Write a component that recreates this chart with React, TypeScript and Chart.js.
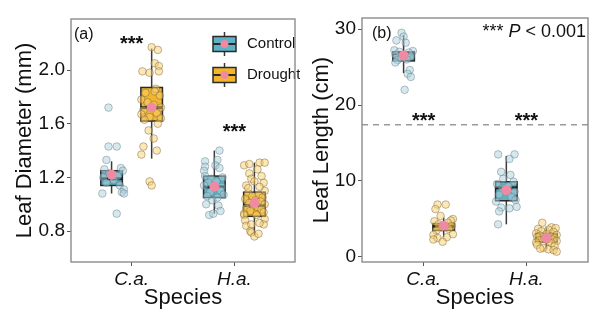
import React, { useEffect, useRef } from "react";
import { Chart, registerables } from "chart.js";
Chart.register(...registerables);

type Pt = [number, number];

const speciesLabels = ["C.a.", "H.a."];
const treatmentLabels = ["Control", "Drought"];
const DODGE = 0.195;
const BOX_HALF = 0.105;

// ---------- Panel (a): Leaf Diameter (mm) ----------
const diameterTicks = [0.8, 1.2, 1.6, 2.0];
// [lower whisker, Q1, median, Q3, upper whisker, mean]
const diameterCaControlBox = [1.08, 1.14, 1.19, 1.25, 1.32, 1.22];
const diameterCaDroughtBox = [1.34, 1.62, 1.72, 1.87, 2.16, 1.72];
const diameterHaControlBox = [0.93, 1.05, 1.13, 1.21, 1.4, 1.13];
const diameterHaDroughtBox = [0.77, 0.91, 0.99, 1.09, 1.31, 1.01];
// [jitter offset, value]
const diameterCaControlPts: Pt[] = [
  [-0.03, 1.72], [-0.03, 1.43], [0.05, 1.43], [-0.05, 1.33], [0.09, 1.27], [-0.07, 1.26],
  [0.11, 1.25], [-0.02, 1.23], [0.06, 1.21], [-0.08, 1.2], [0.02, 1.18], [-0.05, 1.16],
  [0.08, 1.14], [0.12, 1.11], [0.1, 1.09], [-0.09, 1.08], [0.12, 1.08], [0.05, 0.93],
];
const diameterCaDroughtPts: Pt[] = [
  [0.0, 2.17], [0.06, 2.15], [0.03, 2.05], [0.07, 2.03], [-0.09, 1.99], [-0.02, 1.98],
  [0.07, 1.99], [0.04, 1.86], [0.03, 1.84], [-0.06, 1.83], [0.08, 1.81], [-0.1, 1.78],
  [-0.04, 1.76], [0.02, 1.74], [0.09, 1.72], [-0.08, 1.7], [0.05, 1.68], [-0.1, 1.67],
  [-0.02, 1.65], [0.09, 1.64], [-0.07, 1.63], [0.06, 1.6], [-0.03, 1.55], [0.02, 1.49],
  [-0.08, 1.43], [0.05, 1.4], [-0.1, 1.37], [-0.02, 1.17], [0.0, 1.14],
];
const diameterHaControlPts: Pt[] = [
  [0.05, 1.4], [0.03, 1.33], [-0.09, 1.32], [0.01, 1.29], [-0.09, 1.28], [0.05, 1.27],
  [-0.1, 1.25], [-0.09, 1.21], [0.08, 1.2], [-0.03, 1.19], [0.02, 1.17], [-0.06, 1.16],
  [-0.1, 1.14], [0.07, 1.13], [0.0, 1.12], [0.06, 1.1], [-0.04, 1.09], [0.09, 1.07],
  [-0.07, 1.06], [0.03, 1.05], [-0.02, 1.03], [-0.08, 1.0], [0.04, 0.99], [0.06, 0.95],
  [-0.05, 0.92], [-0.01, 0.93],
];
const diameterHaDroughtPts: Pt[] = [
  [-0.1, 1.29], [-0.05, 1.3], [0.05, 1.31], [0.1, 1.31], [-0.05, 1.23], [0.03, 1.26],
  [0.07, 1.21], [-0.03, 1.19], [0.09, 1.16], [-0.08, 1.14], [0.1, 1.1], [-0.06, 1.08],
  [0.04, 1.07], [-0.02, 1.06], [0.08, 1.05], [-0.09, 1.04], [0.01, 1.03], [0.06, 1.02],
  [-0.05, 1.01], [0.1, 1.0], [-0.01, 0.99], [0.03, 0.98], [-0.08, 0.97], [0.07, 0.96],
  [-0.04, 0.95], [0.09, 0.94], [-0.1, 0.93], [0.02, 0.92], [-0.1, 0.92], [-0.09, 0.88],
  [0.1, 0.89], [-0.08, 0.84], [0.09, 0.85], [-0.03, 0.85], [0.05, 0.86], [-0.04, 0.8],
  [-0.03, 0.79], [0.0, 0.76], [0.04, 0.78], [-0.06, 1.12], [0.05, 1.13], [0.0, 1.17],
];
const diameterStars: Pt[] = [[1, 2.15], [2, 1.49]];

// ---------- Panel (b): Leaf Length (cm) ----------
const lengthTicks = [0, 10, 20, 30];
const lengthCaControlBox = [24.2, 25.8, 26.8, 27.0, 29.2, 26.5];
const lengthCaDroughtBox = [2.6, 3.5, 4.0, 4.4, 5.2, 4.1];
const lengthHaControlBox = [4.3, 7.4, 9.1, 9.9, 13.3, 8.8];
const lengthHaDroughtBox = [1.0, 2.0, 2.5, 3.1, 3.9, 2.5];
const lengthCaControlPts: Pt[] = [
  [-0.02, 29.5], [0.0, 29.0], [-0.07, 28.5], [0.02, 28.2], [-0.09, 27.2], [0.09, 27.1],
  [-0.04, 27.0], [0.05, 26.9], [-0.08, 26.6], [0.07, 26.4], [-0.02, 26.2], [0.03, 26.0],
  [-0.06, 25.9], [-0.08, 25.6], [0.06, 24.6], [0.04, 24.1], [0.07, 23.7], [0.01, 22.0],
];
const lengthCaDroughtPts: Pt[] = [
  [-0.06, 6.9], [0.02, 6.9], [-0.08, 6.3], [-0.03, 5.4], [0.09, 5.0], [0.07, 4.8],
  [-0.09, 4.7], [0.04, 4.5], [-0.05, 4.3], [0.08, 4.1], [-0.02, 3.9], [0.05, 3.7],
  [-0.07, 3.5], [0.09, 3.0], [-0.1, 2.9], [0.03, 2.6], [-0.06, 2.5], [-0.1, 2.3], [-0.01, 2.0],
];
const lengthHaControlPts: Pt[] = [
  [-0.08, 13.5], [0.08, 13.5], [0.03, 12.9], [-0.05, 11.2], [0.04, 10.8], [-0.03, 10.3],
  [0.07, 9.9], [-0.09, 9.6], [0.02, 9.3], [-0.04, 9.0], [0.08, 8.6], [-0.07, 8.2],
  [0.05, 7.9], [-0.1, 7.3], [0.09, 7.5], [-0.05, 6.5], [0.03, 6.4], [0.1, 6.6],
  [-0.07, 6.0], [-0.08, 4.3],
];
const lengthHaDroughtPts: Pt[] = [
  [-0.04, 4.5], [0.05, 3.9], [0.09, 3.8], [-0.08, 3.7], [0.02, 3.6], [-0.05, 3.4],
  [0.07, 3.3], [-0.1, 3.1], [0.0, 3.0], [0.1, 2.9], [-0.06, 2.8], [0.04, 2.7],
  [-0.09, 2.6], [0.08, 2.5], [-0.02, 2.4], [0.06, 2.3], [-0.07, 2.2], [0.1, 2.1],
  [0.02, 2.0], [-0.1, 1.9], [0.05, 1.8], [-0.09, 1.6], [0.08, 1.4], [-0.03, 1.2],
  [0.02, 1.0], [0.07, 0.9], [0.1, 0.7], [-0.06, 1.1],
];
const lengthStars: Pt[] = [[1, 17.1], [2, 17.1]];
const lengthThreshold = 17.4;

// ---------- styles ----------
const boxFill = ["#5FB2C6", "#F2B52B"];
const ptFill = ["rgba(170,210,222,0.5)", "rgba(250,208,110,0.5)"];
const ptBorder = ["rgba(85,105,115,0.4)", "rgba(115,95,55,0.45)"];
const meanColor = "#EE8BA2";
const FONT = "'Liberation Sans', Arial, sans-serif";

interface PanelSpec {
  yTicks: number[];
  yMin: number;
  yMax: number;
  xMin: number;
  xMax: number;
  decimals: number;
  yTitle: string;
  tag: string;
  tagX: number;
  boxes: number[][];
  pts: Pt[][];
  stars: Pt[];
  threshold?: number;
  legend: boolean;
  pvalue: boolean;
  padRight: number;
  padTop: number;
  yAxisWidth: number;
  yTitlePad: number;
}

function groupPos(i: number) {
  const sp = Math.floor(i / 2) + 1;
  const g = i % 2;
  return sp + (g === 0 ? -DODGE : DODGE);
}

function buildConfig(p: PanelSpec): any {
  const pointSets = p.pts.map((arr, i) => ({
    data: arr.map(([dx, y]) => ({ x: groupPos(i) + dx, y })),
    backgroundColor: ptFill[i % 2],
    borderColor: ptBorder[i % 2],
    borderWidth: 1,
    pointRadius: 3.8,
    order: 1,
  }));
  const meanSet = {
    data: p.boxes.map((b, i) => ({ x: groupPos(i), y: b[5] })),
    backgroundColor: meanColor,
    borderColor: meanColor,
    borderWidth: 0,
    pointRadius: 5,
    order: 0,
  };

  const boxPlugin = {
    id: "boxes",
    beforeDatasetsDraw(chart: any) {
      const { ctx, chartArea } = chart;
      const xs = chart.scales.x;
      const ys = chart.scales.y;
      ctx.save();
      if (p.threshold !== undefined) {
        const ty = ys.getPixelForValue(p.threshold);
        ctx.strokeStyle = "#9a9a9a";
        ctx.lineWidth = 1.6;
        ctx.setLineDash([6, 5]);
        ctx.beginPath();
        ctx.moveTo(chartArea.left, ty);
        ctx.lineTo(chartArea.right, ty);
        ctx.stroke();
        ctx.setLineDash([]);
      }
      p.boxes.forEach((b, i) => {
        const pos = groupPos(i);
        const cx = xs.getPixelForValue(pos);
        const x0 = xs.getPixelForValue(pos - BOX_HALF);
        const x1 = xs.getPixelForValue(pos + BOX_HALF);
        const [lo, q1, med, q3, hi] = b;
        ctx.strokeStyle = "#3a3a3a";
        ctx.lineWidth = 1.5;
        ctx.beginPath();
        ctx.moveTo(cx, ys.getPixelForValue(lo));
        ctx.lineTo(cx, ys.getPixelForValue(hi));
        ctx.stroke();
        const yt = ys.getPixelForValue(q3);
        const yb = ys.getPixelForValue(q1);
        ctx.fillStyle = boxFill[i % 2];
        ctx.fillRect(x0, yt, x1 - x0, yb - yt);
        ctx.strokeStyle = "#2a2a2a";
        ctx.lineWidth = 1.5;
        ctx.strokeRect(x0, yt, x1 - x0, yb - yt);
        ctx.lineWidth = 3;
        ctx.strokeStyle = "#1a1a1a";
        const ym = ys.getPixelForValue(med);
        ctx.beginPath();
        ctx.moveTo(x0, ym);
        ctx.lineTo(x1, ym);
        ctx.stroke();
      });
      ctx.restore();
    },
    afterDatasetsDraw(chart: any) {
      const { ctx, chartArea } = chart;
      const xs = chart.scales.x;
      const ys = chart.scales.y;
      ctx.save();
      ctx.fillStyle = "#111";
      ctx.textBaseline = "alphabetic";
      ctx.textAlign = "center";
      ctx.font = `bold 20px ${FONT}`;
      p.stars.forEach(([sx, sy]) => {
        ctx.fillText("***", xs.getPixelForValue(sx), ys.getPixelForValue(sy));
      });
      ctx.textAlign = "left";
      ctx.font = `16px ${FONT}`;
      ctx.fillText(p.tag, chartArea.left + p.tagX, chartArea.top + 20);
      if (p.pvalue) {
        const parts: [string, string][] = [
          ["*** ", `18px ${FONT}`],
          ["P", `italic 18px ${FONT}`],
          [" < 0.001", `18px ${FONT}`],
        ];
        let w = 0;
        parts.forEach(([t, f]) => { ctx.font = f; w += ctx.measureText(t).width; });
        let x = chartArea.right - 2 - w;
        const y = chartArea.top + 19;
        parts.forEach(([t, f]) => {
          ctx.font = f;
          ctx.fillText(t, x, y);
          x += ctx.measureText(t).width;
        });
      }
      if (p.legend) {
        const kx0 = chartArea.left + 142;
        const kw = 23;
        const kcx = kx0 + kw / 2;
        treatmentLabels.forEach((lab, g) => {
          const cy = chartArea.top + 25 + g * 31;
          ctx.strokeStyle = "#3a3a3a";
          ctx.lineWidth = 1.5;
          ctx.beginPath();
          ctx.moveTo(kcx, cy - 12);
          ctx.lineTo(kcx, cy + 12);
          ctx.stroke();
          ctx.fillStyle = boxFill[g];
          ctx.fillRect(kx0, cy - 7.5, kw, 15);
          ctx.strokeStyle = "#2a2a2a";
          ctx.strokeRect(kx0, cy - 7.5, kw, 15);
          ctx.lineWidth = 2;
          ctx.beginPath();
          ctx.moveTo(kx0, cy);
          ctx.lineTo(kx0 + kw, cy);
          ctx.stroke();
          ctx.fillStyle = meanColor;
          ctx.beginPath();
          ctx.arc(kcx, cy, 4, 0, Math.PI * 2);
          ctx.fill();
          ctx.fillStyle = "#111";
          ctx.font = `15px ${FONT}`;
          ctx.textBaseline = "middle";
          ctx.fillText(lab, kx0 + kw + 11, cy);
          ctx.textBaseline = "alphabetic";
        });
      }
      ctx.restore();
    },
    afterDraw(chart: any) {
      const { ctx, chartArea } = chart;
      ctx.save();
      ctx.strokeStyle = "#8c8c8c";
      ctx.lineWidth = 1.4;
      ctx.strokeRect(chartArea.left, chartArea.top, chartArea.right - chartArea.left, chartArea.bottom - chartArea.top);
      ctx.restore();
    },
  };

  return {
    type: "scatter",
    data: { datasets: [meanSet, ...pointSets] },
    plugins: [boxPlugin],
    options: {
      responsive: false,
      animation: false,
      events: [],
      layout: { padding: { left: 0, right: p.padRight, top: p.padTop, bottom: 0 } },
      plugins: { legend: { display: false }, tooltip: { enabled: false } },
      scales: {
        x: {
          type: "linear",
          min: p.xMin,
          max: p.xMax,
          afterBuildTicks: (s: any) => { s.ticks = speciesLabels.map((_, i) => ({ value: i + 1 })); },
          afterFit: (s: any) => { s.height = 60; },
          ticks: {
            callback: (_v: any, i: number) => speciesLabels[i],
            font: { family: FONT, size: 19, style: "italic" },
            color: "#111",
            padding: 2,
            maxRotation: 0,
          },
          grid: { drawOnChartArea: false, drawTicks: true, tickLength: 4, color: "#555" },
          border: { display: false },
          title: {
            display: true,
            text: "Species",
            font: { family: FONT, size: 22 },
            color: "#111",
            padding: { top: 0, bottom: 11 },
          },
        },
        y: {
          type: "linear",
          min: p.yMin,
          max: p.yMax,
          afterBuildTicks: (s: any) => { s.ticks = p.yTicks.map((v) => ({ value: v })); },
          afterFit: (s: any) => { s.width = p.yAxisWidth; },
          ticks: {
            callback: (v: any) => Number(v).toFixed(p.decimals),
            font: { family: FONT, size: 19 },
            color: "#111",
            padding: 2,
          },
          grid: { drawOnChartArea: false, drawTicks: true, tickLength: 4, color: "#555" },
          border: { display: false },
          title: {
            display: true,
            text: p.yTitle,
            font: { family: FONT, size: 22 },
            color: "#111",
            padding: { top: p.yTitlePad, bottom: 0 },
          },
        },
      },
    },
  };
}

const panelA: PanelSpec = {
  yTicks: diameterTicks,
  yMin: 0.57,
  yMax: 2.38,
  xMin: 0.41,
  xMax: 2.59,
  decimals: 1,
  yTitle: "Leaf Diameter (mm)",
  tag: "(a)",
  tagX: 3,
  boxes: [diameterCaControlBox, diameterCaDroughtBox, diameterHaControlBox, diameterHaDroughtBox],
  pts: [diameterCaControlPts, diameterCaDroughtPts, diameterHaControlPts, diameterHaDroughtPts],
  stars: diameterStars,
  legend: true,
  pvalue: false,
  padRight: 4,
  padTop: 19,
  yAxisWidth: 71,
  yTitlePad: 12,
};

const panelB: PanelSpec = {
  yTicks: lengthTicks,
  yMin: -0.66,
  yMax: 31.45,
  xMin: 0.4,
  xMax: 2.6,
  decimals: 0,
  yTitle: "Leaf Length (cm)",
  tag: "(b)",
  tagX: 10,
  boxes: [lengthCaControlBox, lengthCaDroughtBox, lengthHaControlBox, lengthHaDroughtBox],
  pts: [lengthCaControlPts, lengthCaDroughtPts, lengthHaControlPts, lengthHaDroughtPts],
  stars: lengthStars,
  threshold: lengthThreshold,
  legend: false,
  pvalue: true,
  padRight: 12,
  padTop: 18,
  yAxisWidth: 62,
  yTitlePad: 9,
};

function Panel({ spec }: { spec: PanelSpec }) {
  const ref = useRef<HTMLCanvasElement | null>(null);
  useEffect(() => {
    if (!ref.current) return;
    const chart = new Chart(ref.current, buildConfig(spec));
    return () => chart.destroy();
  }, [spec]);
  return <canvas ref={ref} width={300} height={322} style={{ display: "block", width: 300, height: 322 }} />;
}

export default function App() {
  return (
    <div style={{ position: "fixed", left: 0, top: 0, width: 600, height: 322, background: "#fff", display: "flex" }}>
      <Panel spec={panelA} />
      <Panel spec={panelB} />
    </div>
  );
}
